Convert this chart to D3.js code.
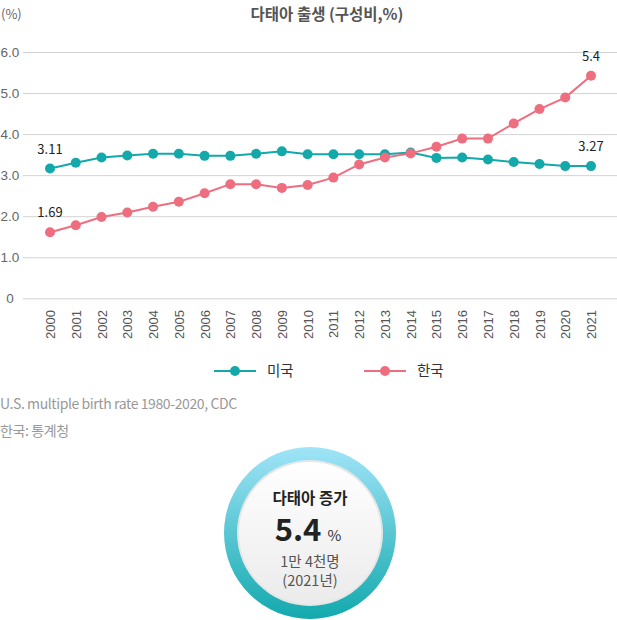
<!DOCTYPE html>
<html><head><meta charset="utf-8">
<script src="https://cdn.jsdelivr.net/npm/d3@7/dist/d3.min.js"></script>
<style>
body{margin:0;background:#fff;}
svg{display:block;font-family:"Noto Sans CJK KR","Noto Sans",sans-serif;}
</style></head>
<body>
<svg id="chart" width="617" height="620"></svg>
<script>
const years = ["2000","2001","2002","2003","2004","2005","2006","2007","2008","2009","2010","2011","2012","2013","2014","2015","2016","2017","2018","2019","2020","2021"];
const usValues = [3.16,3.30,3.43,3.48,3.52,3.52,3.47,3.47,3.52,3.58,3.51,3.51,3.51,3.51,3.55,3.42,3.43,3.38,3.32,3.27,3.22,3.22];
const krValues = [1.61,1.78,1.98,2.09,2.23,2.35,2.56,2.78,2.78,2.69,2.76,2.94,3.26,3.43,3.53,3.69,3.89,3.89,4.26,4.61,4.89,5.42];
const yTicks = [0,1,2,3,4,5,6];
const seriesNames = ["미국","한국"];
const usLabels = [{year:"2000",text:"3.11"},{year:"2021",text:"3.27"}];
const krLabels = [{year:"2000",text:"1.69"},{year:"2021",text:"5.4"}];
const title = "다태아 출생 (구성비,%)";
const unit = "(%)";
const notes = ["U.S. multiple birth rate 1980-2020, CDC","한국: 통계청"];
const badge = {title:"다태아 증가", value:"5.4", unit:"%", line1:"1만 4천명", line2:"(2021년)"};

const colors = {us:"#13a8aa", kr:"#ee6e80"};
const svg = d3.select("#chart");

const x = d3.scalePoint().domain(years).range([50,591]);
const y = d3.scaleLinear().domain([0,6]).range([298.3,52]);

// title
svg.append("text").attr("x",327).attr("y",20).attr("text-anchor","middle")
  .attr("font-size",15.5).attr("font-weight","bold").attr("fill","#555").text(title);
svg.append("text").attr("x",1).attr("y",19).attr("font-size",13).attr("fill","#666").text(unit);

// grid + y axis
const yAxis = d3.axisLeft(y).tickValues(yTicks).tickSize(-594)
  .tickFormat(d => d===0 ? "0" : d3.format(".1f")(d)).tickPadding(0);
const gy = svg.append("g").attr("transform","translate(23,0)").call(yAxis);
gy.select(".domain").remove();
gy.selectAll(".tick line").attr("stroke","#d3d3d3").attr("stroke-width",1);
gy.selectAll(".tick text").attr("x",-13).attr("text-anchor","middle")
  .attr("font-size",13.5).attr("fill","#666").attr("font-family",null);

// x axis labels
const xAxis = d3.axisBottom(x).tickSize(0).tickPadding(0);
const gx = svg.append("g").attr("transform","translate(0,310)").call(xAxis);
gx.select(".domain").remove();
gx.selectAll(".tick text").attr("transform","rotate(-90)").attr("text-anchor","end")
  .attr("x",0).attr("y",0).attr("dx",null).attr("dy","0.35em")
  .attr("font-size",13).attr("fill","#555").attr("font-family",null);

// lines
const line = d3.line().x((d,i)=>x(years[i])).y(d=>y(d));
function drawSeries(vals,color){
  svg.append("path").datum(vals).attr("d",line).attr("fill","none")
    .attr("stroke",color).attr("stroke-width",2);
  svg.append("g").selectAll("circle").data(vals).join("circle")
    .attr("cx",(d,i)=>x(years[i])).attr("cy",d=>y(d)).attr("r",5).attr("fill",color);
}
drawSeries(usValues,colors.us);
drawSeries(krValues,colors.kr);

function drawLabels(labels,vals){
  svg.append("g").selectAll("text").data(labels).join("text")
    .attr("x",d=>x(d.year)).attr("y",d=>y(vals[years.indexOf(d.year)])-15)
    .attr("text-anchor","middle").attr("font-size",13).attr("fill","#222").text(d=>d.text);
}
drawLabels(usLabels,usValues);
drawLabels(krLabels,krValues);

// legend
const legendX = [214,364];
const legColors = [colors.us,colors.kr];
seriesNames.forEach((n,i)=>{
  const g = svg.append("g").attr("transform",`translate(${legendX[i]},371)`);
  g.append("line").attr("x1",0).attr("x2",42).attr("stroke",legColors[i]).attr("stroke-width",2);
  g.append("circle").attr("cx",21).attr("r",5).attr("fill",legColors[i]);
  g.append("text").attr("x",53).attr("dy","0.36em").attr("font-size",14.5).attr("fill","#333").text(n);
});

// notes
notes.forEach((t,i)=>{
  svg.append("text").attr("x",0).attr("y",409+i*27).attr("font-size",14)
    .attr("fill","#999").attr("letter-spacing","-0.4").text(t);
});

// badge
const defs = svg.append("defs");
const rg = defs.append("linearGradient").attr("id","ring").attr("x1",0).attr("y1",0).attr("x2",0).attr("y2",1);
rg.append("stop").attr("offset","0%").attr("stop-color","#a0e4f8");
rg.append("stop").attr("offset","100%").attr("stop-color","#12a9ad");
const ig = defs.append("linearGradient").attr("id","inner").attr("x1",0).attr("y1",0).attr("x2",0).attr("y2",1);
ig.append("stop").attr("offset","0%").attr("stop-color","#ffffff");
ig.append("stop").attr("offset","100%").attr("stop-color","#ebebeb");
const cx = 310, cy = 533;
svg.append("circle").attr("cx",cx).attr("cy",cy).attr("r",86).attr("fill","url(#ring)");
svg.append("circle").attr("cx",cx).attr("cy",cy).attr("r",73).attr("fill","#e6e6e6");
svg.append("circle").attr("cx",cx).attr("cy",cy).attr("r",71).attr("fill","url(#inner)");
svg.append("text").attr("x",cx).attr("y",504).attr("text-anchor","middle")
  .attr("font-size",15.5).attr("font-weight","bold").attr("fill","#222").text(badge.title);
const vt = svg.append("text").attr("x",cx-2).attr("y",541).attr("text-anchor","middle").attr("fill","#222");
vt.append("tspan").attr("font-size",31).attr("font-weight","bold").text(badge.value);
vt.append("tspan").attr("font-size",15).attr("dx",6).attr("fill","#333").text(badge.unit);
svg.append("text").attr("x",cx).attr("y",567).attr("text-anchor","middle")
  .attr("font-size",14.5).attr("fill","#555").text(badge.line1);
svg.append("text").attr("x",cx).attr("y",586).attr("text-anchor","middle")
  .attr("font-size",14.5).attr("fill","#555").text(badge.line2);
</script>
</body></html>
